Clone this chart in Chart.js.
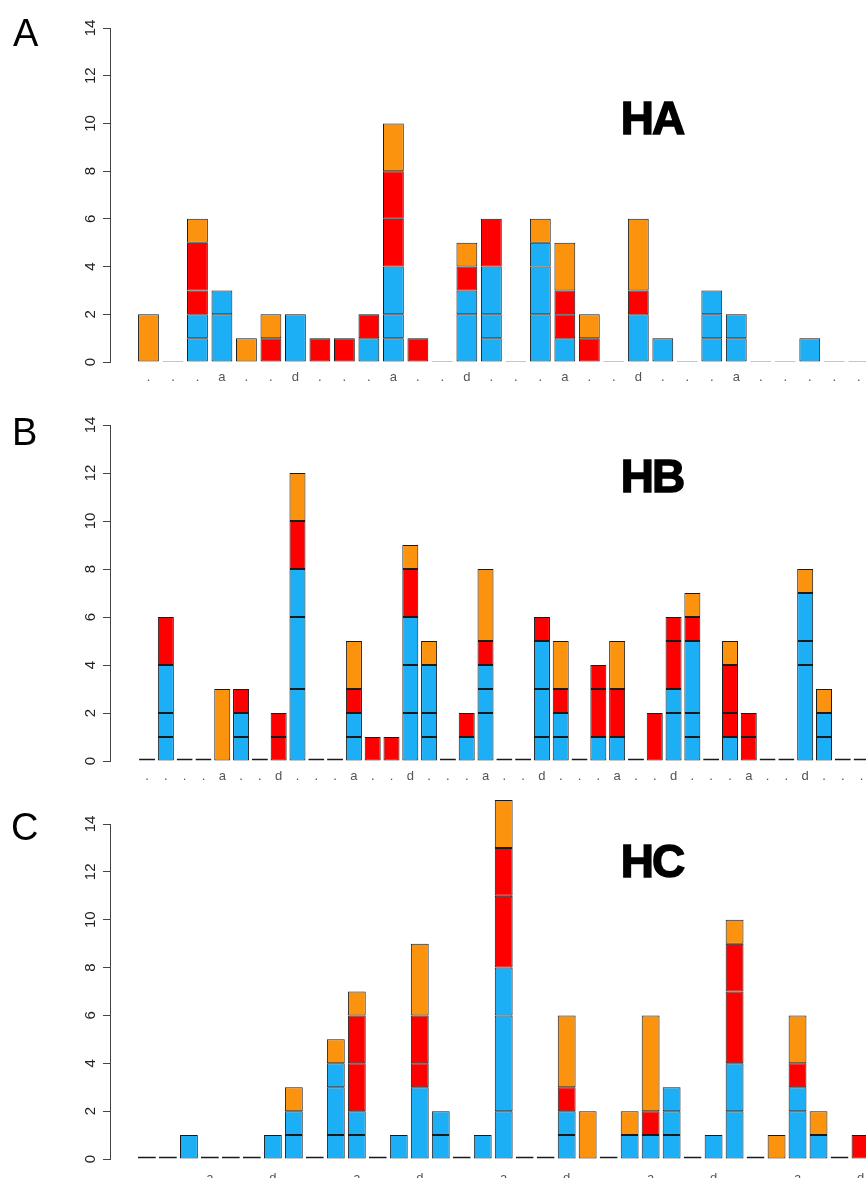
<!DOCTYPE html>
<html>
<head>
<meta charset="utf-8">
<script src="https://cdn.jsdelivr.net/npm/chart.js@4.4.1/dist/chart.umd.min.js"></script>
<style>
html, body { margin: 0; padding: 0; background: #fff; overflow: hidden; }
#wrap { position: relative; width: 866px; height: 1178px; overflow: hidden; background: #fff; }
canvas { position: absolute; left: 0; }
.panel { position: absolute; font-family: "Liberation Sans", Arial, sans-serif; font-size: 38px; line-height: 1; color: #000; }
.title { position: absolute; left: 592px; width: 120px; text-align: center; font-family: "Liberation Sans", Arial, sans-serif;
  font-weight: bold; font-size: 46px; line-height: 1; letter-spacing: -2px; color: #000; -webkit-text-stroke: 1.4px #000; }
</style>
</head>
<body>
<div id="wrap">
  <canvas id="chartA" width="880" height="392" style="top:0px"></canvas>
  <canvas id="chartB" width="880" height="394" style="top:397px"></canvas>
  <canvas id="chartC" width="880" height="393" style="top:796px"></canvas>
  <div class="panel" style="left:13px;top:14px">A</div>
  <div class="panel" style="left:12px;top:413px">B</div>
  <div class="panel" style="left:11px;top:808px">C</div>
  <div class="title" style="top:95px">HA</div>
  <div class="title" style="top:453px">HB</div>
  <div class="title" style="top:838px">HC</div>
</div>
<script>
Chart.defaults.font.family = '"Liberation Sans", Arial, Helvetica, sans-serif'

const edge = '#1a1a1a'
const colBlue = '#1caff5'
const colRed = '#ff0000'
const colOrange = '#fc930f'

const yTicks = [0, 2, 4, 6, 8, 10, 12, 14]

// HA: each entry = stacked blocks of that colour for one position
const haLabels = ['.','.','.','a','.','.','d','.','.','.','a','.','.','d','.','.','.','a','.','.','d','.','.','.','a','.','.','.','.','.']
const haBlue = [[],[],[1,1],[2,1],[],[],[2],[],[],[1],[1,1,2],[],[],[2,1],[1,1,2],[],[2,2,1],[1],[],[],[2],[1],[],[1,1,1],[1,1],[],[],[1],[],[]]
const haRed = [[],[],[1,2],[],[],[1],[],[1],[1],[1],[2,2],[1],[],[1],[2],[],[],[1,1],[1],[],[1],[],[],[],[],[],[],[],[],[]]
const haOrange = [[2],[],[1],[],[1],[1],[],[],[],[],[2],[],[],[1],[],[],[1],[2],[1],[],[3],[],[],[],[],[],[],[],[],[]]

// HB
const hbLabels = ['.','.','.','.','a','.','.','d','.','.','.','a','.','.','d','.','.','.','a','.','.','d','.','.','.','a','.','.','d','.','.','.','a','.','.','d','.','.','.']
const hbBlue = [[],[1,1,2],[],[],[],[1,1],[],[],[3,3,2],[],[],[1,1],[],[],[2,2,2],[1,1,2],[],[1],[2,1,1],[],[],[1,2,2],[1,1],[],[1],[1],[],[],[2,1],[1,1,3],[],[1],[],[],[],[4,1,2],[1,1],[],[]]
const hbRed = [[],[2],[],[],[],[1],[],[1,1],[2],[],[],[1],[1],[1],[2],[],[],[1],[1],[],[],[1],[1],[],[2,1],[2],[],[2],[2,1],[1],[],[1,2],[1,1],[],[],[],[],[],[]]
const hbOrange = [[],[],[],[],[3],[],[],[],[2],[],[],[2],[],[],[1],[1],[],[],[3],[],[],[],[2],[],[],[2],[],[],[],[1],[],[1],[],[],[],[1],[1],[],[]]

// HC
const hcLabels = ['.','.','.','a','.','.','d','.','.','.','a','.','.','d','.','.','.','a','.','.','d','.','.','.','a','.','.','d','.','.','.','a','.','.','d']
const hcBlue = [[],[],[1],[],[],[],[1],[1,1],[],[1,2,1],[1,1],[],[1],[3],[1,1],[],[1],[2,4,2],[],[],[1,1],[],[],[1],[1],[1,1,1],[],[1],[2,2],[],[],[2,1],[1],[],[]]
const hcRed = [[],[],[],[],[],[],[],[],[],[],[2,2],[],[],[1,2],[],[],[],[3,2],[],[],[1],[],[],[],[1],[],[],[],[3,2],[],[],[1],[],[],[1]]
const hcOrange = [[],[],[],[],[],[],[],[1],[],[1],[1],[],[],[3],[],[],[],[2],[],[],[3],[2],[],[1],[4],[],[],[],[1],[],[1],[2],[1],[],[]]

function makePanel(id, labels, blues, reds, oranges, xMin, dash, labelPad) {
  const stacks = blues.map((b, i) => [
    ...b.map(v => [v, colBlue]),
    ...reds[i].map(v => [v, colRed]),
    ...oranges[i].map(v => [v, colOrange])
  ])
  const depth = Math.max(...stacks.map(s => s.length))
  const datasets = []
  for (let k = 0; k < depth; k++) {
    datasets.push({
      data: stacks.map((s, i) => ({ x: i, y: s[k] ? s[k][0] : (k === 0 ? 0 : null) })),
      backgroundColor: stacks.map(s => s[k] ? s[k][1] : edge),
      borderColor: edge,
      borderWidth: 1,
      borderSkipped: false,
      minBarLength: k === 0 ? dash : 0,
      categoryPercentage: 1,
      barPercentage: 0.85,
      clip: false
    })
  }

  return new Chart(document.getElementById(id), {
    type: 'bar',
    data: { datasets },
    options: {
      responsive: false,
      animation: false,
      events: [],
      layout: { padding: { left: 0, right: 9, top: 28, bottom: 0 } },
      plugins: { legend: { display: false }, tooltip: { enabled: false } },
      scales: {
        x: {
          type: 'linear',
          stacked: true,
          offset: false,
          min: xMin,
          max: labels.length - 0.5,
          grid: { display: false, drawTicks: false },
          border: { display: false },
          ticks: {
            stepSize: 1, autoSkip: false, maxRotation: 0, includeBounds: false,
            padding: labelPad, color: '#555', font: { size: 13 },
            callback: v => labels[v] ?? ''
          },
          afterFit: s => { s.height = 30 }
        },
        y: {
          stacked: true,
          min: 0,
          max: 14,
          afterBuildTicks: s => { s.ticks = yTicks.map(v => ({ value: v })) },
          afterFit: s => { s.width = 110 },
          grid: { drawOnChartArea: false, tickLength: 7, color: '#444' },
          border: { color: '#444', width: 1 },
          ticks: {
            minRotation: 90, maxRotation: 90, crossAlign: 'center',
            padding: 4, color: '#222', font: { size: 15 }
          }
        }
      }
    }
  })
}

makePanel('chartA', haLabels, haBlue, haRed, haOrange, -1.57, 1, 8)
makePanel('chartB', hbLabels, hbBlue, hbRed, hbOrange, -1.97, 2.5, 8)
makePanel('chartC', hcLabels, hcBlue, hcRed, hcOrange, -1.76, 2.5, 12)
</script>
</body>
</html>
